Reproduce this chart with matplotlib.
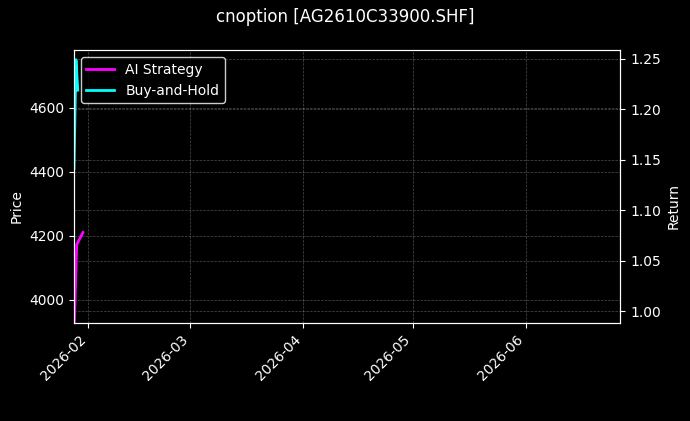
import matplotlib
matplotlib.use("Agg")
import matplotlib.pyplot as plt
import matplotlib.dates as mdates
import pandas as pd

plt.style.use("dark_background")

title = "cnoption [AG2610C33900.SHF]"

# price series (mostly hidden behind the buy-and-hold curve)
price_times = pd.to_datetime(["2026-01-28 00:00", "2026-01-28 01:00",
                              "2026-01-28 14:00", "2026-01-29 02:00"])
price = [3900, 4405, 4746, 4653]

bh_times = pd.to_datetime(["2026-01-28 01:00", "2026-01-28 14:00", "2026-01-29 02:00"])
bh_ret = [1.141, 1.249, 1.219]

ai_times = pd.to_datetime(["2026-01-28 00:00", "2026-01-28 19:00", "2026-01-30 12:00"])
ai_ret = [0.97, 1.066, 1.078]

fig, ax = plt.subplots(figsize=(6.9, 4.21), dpi=100)
fig.subplots_adjust(left=0.107, right=0.899, top=0.881, bottom=0.233)

ax.plot(price_times, price, color="#ff4040", linewidth=1.0, alpha=0.8)
ax.set_ylabel("Price")
ax.yaxis.label.set_y(0.43)
ax.set_ylim(3928, 4781)
ax.set_yticks([4000, 4200, 4400, 4600])
ax.grid(True, linestyle="--", linewidth=0.5, alpha=0.3)

ax2 = ax.twinx()
ax2.plot(ai_times, ai_ret, color="#ff00ff", linewidth=2, label="AI Strategy")
ax2.plot(bh_times, bh_ret, color="#00ffff", linewidth=2, label="Buy-and-Hold")
ax2.set_ylabel("Return")
ax2.yaxis.label.set_y(0.43)
ax2.set_ylim(0.9885, 1.2585)
ax2.set_yticks([1.00, 1.05, 1.10, 1.15, 1.20, 1.25])
ax2.grid(True, linestyle="--", linewidth=0.5, alpha=0.3)

ax.set_xlim(pd.Timestamp("2026-01-28"), pd.Timestamp("2026-06-27"))
ax.xaxis.set_major_locator(mdates.MonthLocator())
ax.xaxis.set_major_formatter(mdates.DateFormatter("%Y-%m"))
plt.setp(ax.get_xticklabels(), rotation=45, ha="right")

ax2.legend(loc="upper left", facecolor="black", edgecolor="white", framealpha=0.8)

fig.suptitle(title, fontsize=12, y=0.98)

fig.savefig("out.png", dpi=100)
